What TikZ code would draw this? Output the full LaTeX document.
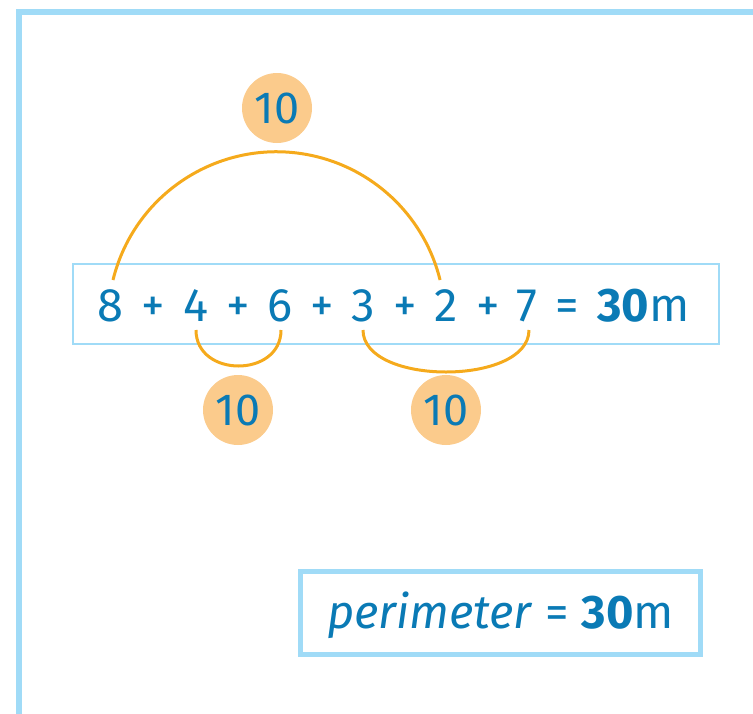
\documentclass[tikz,border=0pt]{standalone}
\usepackage{fontspec}
\setmainfont{Fira Sans}
\definecolor{txtblue}{HTML}{0A7AB5}
\definecolor{frameblue}{HTML}{A0DBF7}
\definecolor{arcorange}{HTML}{F5AA1C}
\definecolor{circfill}{HTML}{FBCB8C}
\begin{document}
\begin{tikzpicture}[x=1pt,y=-1pt,
  tok/.style={anchor=base,text=txtblue,font=\fontsize{47}{52}\selectfont,inner sep=0pt},
  tenc/.style={circle,fill=circfill,minimum size=70pt,inner sep=0pt,text=txtblue,font=\fontsize{45}{50}\selectfont},
  link/.style={draw=arcorange,line width=3pt}]
\useasboundingbox (0,0) rectangle (753,713);
% outer frame
\draw[frameblue,line width=6pt] (19,720) -- (19,12) -- (760,12);
% equation box
\node[draw=frameblue,line width=2.4pt,minimum width=646pt,minimum height=80pt,inner sep=0pt] (eqbox) at (396,304) {};
% tokens
\node[tok] (n8) at (110,321) {8};
\node[tok] (p1) at (153,321) {+};
\node[tok] (n4) at (196,321) {4};
\node[tok] (p2) at (238,321) {+};
\node[tok] (n6) at (280,321) {6};
\node[tok] (p3) at (322,321) {+};
\node[tok] (n3) at (363,321) {3};
\node[tok] (p4) at (405,321) {+};
\node[tok] (n2) at (446,321) {2};
\node[tok] (p5) at (488,321) {+};
\node[tok] (n7) at (527,321) {7};
\node[tok] (eq) at (567,321) {=};
\node[tok,anchor=base west] (res) at (597,321) {\textbf{30}m};
% connection points
\coordinate (a8) at (113,280);
\coordinate (a2) at (440,280);
\coordinate (b4) at (196,330);
\coordinate (b6) at (281,330);
\coordinate (b3) at (363,330);
\coordinate (b7) at (529,330);
% arcs
\draw[link] (a8) arc[start angle=193.8,end angle=346.2,radius=168.4];
\draw[link] (b4) .. controls (196,378) and (281,378) .. (b6);
\draw[link] (b3) .. controls (363,386) and (529,386) .. (b7);
% ten circles
\node[tenc] (t1) at (277,108) {10};
\node[tenc] (t2) at (238,410) {10};
\node[tenc] (t3) at (446,410) {10};
% perimeter box
\node[draw=frameblue,line width=5pt,minimum width=400pt,minimum height=83pt,inner sep=0pt] (pbox) at (500,613) {};
\node[tok,anchor=base west,font=\fontsize{47}{52}\selectfont] (per) at (327,628) {\textit{perimeter} = \textbf{30}m};
\end{tikzpicture}
\end{document}
